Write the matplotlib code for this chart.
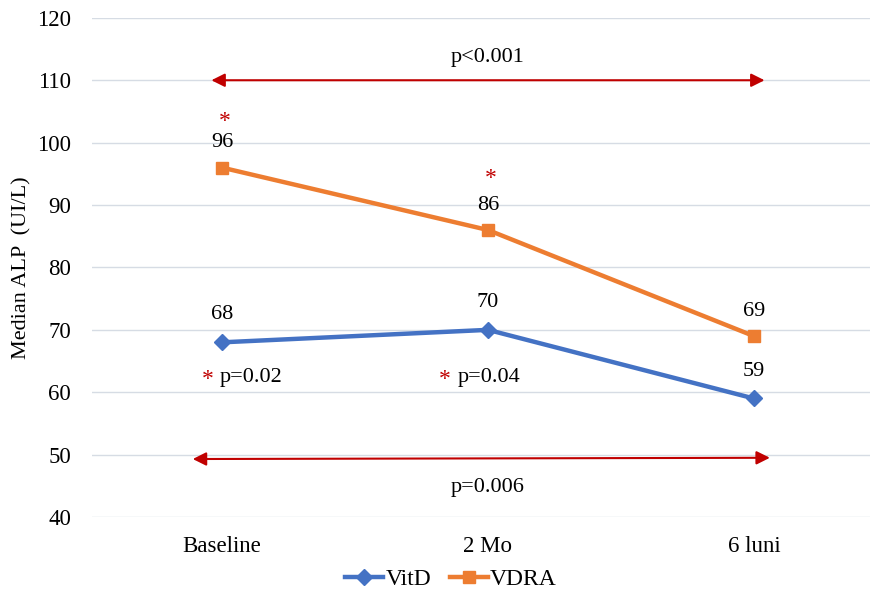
import numpy as np
import matplotlib.pyplot as plt

# datos
categorias = ["Baseline", "2 Mo", "6 luni"]
vitd = [68, 70, 59]
vdra = [96, 86, 69]
yticks = [40, 50, 60, 70, 80, 90, 100, 110, 120]

plt.rcParams['font.family'] = ['Liberation Serif', 'DejaVu Serif']
fs = 16

fig = plt.figure(figsize=(8.76, 5.95), dpi=100)
ax = fig.add_axes([0.105, 0.131, 0.888, 0.839])

x = np.arange(len(categorias))
azul = '#4472C4'
naranja = '#ED7D31'
rojo = '#C00000'

ax.plot(x, vitd, color=azul, lw=3.2, marker='D', ms=8, label='VitD', zorder=3)
ax.plot(x, vdra, color=naranja, lw=3.2, marker='s', ms=9, label='VDRA', zorder=3)

# etiquetas de valores
for xi, v in zip(x, vitd):
    ax.text(xi, v + 4.4, str(v), ha='center', va='center', fontsize=fs)
for xi, v in zip(x, vdra):
    ax.text(xi, v + 4.0, str(v), ha='center', va='center', fontsize=fs)

# flechas de significancia
ax.annotate('', xy=(-0.04, 110), xytext=(2.04, 110),
            arrowprops=dict(arrowstyle='<|-|>', color=rojo, lw=1.5,
                            mutation_scale=20, shrinkA=0, shrinkB=0))
ax.annotate('', xy=(-0.11, 49.3), xytext=(2.06, 49.5),
            arrowprops=dict(arrowstyle='<|-|>', color=rojo, lw=1.5,
                            mutation_scale=20, shrinkA=0, shrinkB=0))
ax.text(1, 113.6, 'p<0.001', ha='center', va='center', fontsize=fs)
ax.text(1, 44.8, 'p=0.006', ha='center', va='center', fontsize=fs)

# asteriscos
ax.text(0.01, 103.4, '*', color=rojo, ha='center', va='center', fontsize=fs + 1)
ax.text(1.01, 94.2, '*', color=rojo, ha='center', va='center', fontsize=fs + 1)
ax.text(-0.053, 62.0, '*', color=rojo, ha='center', va='center', fontsize=fs + 1)
ax.text(-0.008, 62.3, 'p=0.02', ha='left', va='center', fontsize=fs)
ax.text(1 - 0.162, 62.0, '*', color=rojo, ha='center', va='center', fontsize=fs + 1)
ax.text(1 - 0.113, 62.3, 'p=0.04', ha='left', va='center', fontsize=fs)

ax.set_xlim(-0.489, 2.436)
ax.set_ylim(40, 120)
ax.set_yticks(yticks)
ax.set_xticks(x)
ax.set_xticklabels(categorias)
ax.tick_params(axis='both', length=0, labelsize=fs + 0.5)
ax.tick_params(axis='x', pad=14)
ax.tick_params(axis='y', pad=15)
ax.grid(axis='y', color='#D6DCE4', lw=1)
ax.set_axisbelow(True)
for s in ax.spines.values():
    s.set_visible(False)
ax.set_ylabel('Median ALP  (UI/L)', fontsize=16, labelpad=4)

fig.legend(loc='lower center', ncol=2, frameon=False, fontsize=fs + 1,
           bbox_to_anchor=(0.515, -0.027), handlelength=1.6, columnspacing=0.8,
           handletextpad=0.1)

fig.savefig('out.png', dpi=100)
